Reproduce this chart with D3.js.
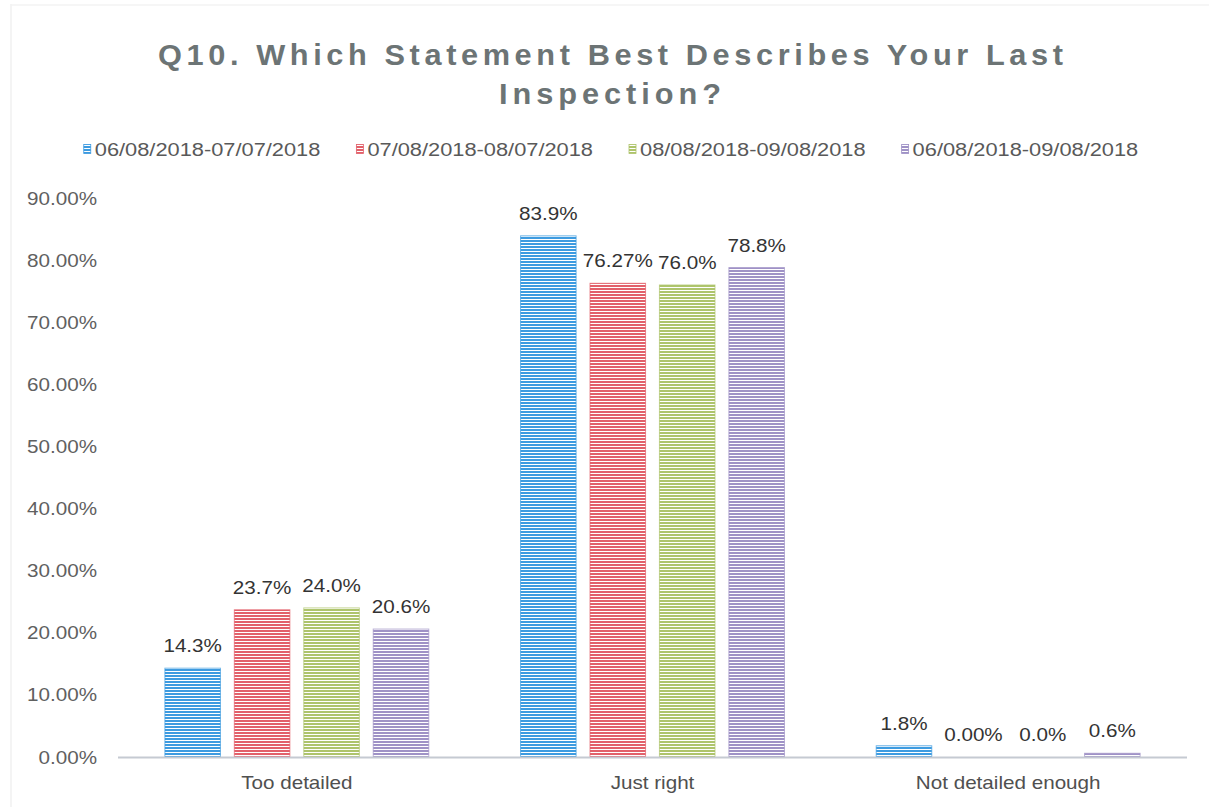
<!DOCTYPE html>
<html>
<head>
<meta charset="utf-8">
<script src="https://cdn.jsdelivr.net/npm/d3@7/dist/d3.min.js"></script>
<style>
  html, body { margin: 0; padding: 0; background: #fff; }
  svg { display: block; font-family: "Liberation Sans", Arial, sans-serif; }
</style>
</head>
<body>
<svg id="chart" width="1209" height="807"></svg>
<script>
// Survey results: Q10 by reporting period
const categories = ["Too detailed", "Just right", "Not detailed enough"];
const seriesNames = [
  "06/08/2018-07/07/2018",
  "07/08/2018-08/07/2018",
  "08/08/2018-09/08/2018",
  "06/08/2018-09/08/2018"
];
const seriesColors = ["#3d9be0", "#e2606a", "#aec46c", "#9f92c6"];

const period1Values = [14.3, 83.9, 1.8];
const period2Values = [23.7, 76.27, 0.00];
const period3Values = [24.0, 76.0, 0.0];
const overallValues = [20.6, 78.8, 0.6];

// decimals shown in each data label
const period1Decimals = [1, 1, 1];
const period2Decimals = [1, 2, 2];
const period3Decimals = [1, 1, 1];
const overallDecimals = [1, 1, 1];

const yTicks = [0, 10, 20, 30, 40, 50, 60, 70, 80, 90];

const seriesValues = [period1Values, period2Values, period3Values, overallValues];
const seriesDecimals = [period1Decimals, period2Decimals, period3Decimals, overallDecimals];

const svg = d3.select("#chart");
const SX = 1.18; // horizontal stretch of the text glyphs

// light frame
svg.append("line").attr("x1", 11).attr("x2", 11).attr("y1", 4).attr("y2", 807)
  .attr("stroke", "#f0f0f0").attr("stroke-width", 1.5);
svg.append("line").attr("x1", 11).attr("x2", 1209).attr("y1", 5).attr("y2", 5)
  .attr("stroke", "#f3f3f3").attr("stroke-width", 1.5);

// striped fills
const defs = svg.append("defs");
seriesColors.forEach((c, i) => {
  const p = defs.append("pattern")
    .attr("id", "stripe" + i)
    .attr("patternUnits", "userSpaceOnUse")
    .attr("width", 6).attr("height", 3);
  p.append("rect").attr("width", 6).attr("height", 3).attr("fill", "#ffffff");
  p.append("rect").attr("width", 6).attr("height", 2).attr("fill", c);
});

const x0 = d3.scaleBand()
  .domain(categories)
  .range([119, 1186])
  .paddingInner(0.258)
  .paddingOuter(0.129);

const x1 = d3.scaleBand()
  .domain(d3.range(seriesNames.length))
  .range([0, x0.bandwidth()])
  .paddingInner(0.2);

const y = d3.scaleLinear().domain([0, 90]).range([757, 198]);

function stretchedText(sel, x, y, anchor) {
  return sel.append("text")
    .attr("transform", `translate(${x},${y}) scale(${SX},1)`)
    .attr("text-anchor", anchor);
}

// title (two lines, spaced out)
const TSX = 1.06;
svg.append("text")
  .attr("transform", `translate(158,65) scale(${TSX},1)`)
  .attr("font-size", 29).attr("font-weight", "bold")
  .attr("fill", "#6c7475")
  .attr("textLength", 905 / TSX).attr("lengthAdjust", "spacing")
  .text("Q10. Which Statement Best Describes Your Last");
svg.append("text")
  .attr("transform", `translate(499,104) scale(${TSX},1)`)
  .attr("font-size", 29).attr("font-weight", "bold")
  .attr("fill", "#6c7475")
  .attr("textLength", 222 / TSX).attr("lengthAdjust", "spacing")
  .text("Inspection?");

// legend
const legend = svg.append("g");
let lx = 0;
seriesNames.forEach((name, i) => {
  const g = legend.append("g").attr("transform", `translate(${lx},0)`);
  g.append("rect").attr("x", 0).attr("y", -4.5).attr("width", 7).attr("height", 9)
    .attr("fill", `url(#stripe${i})`).attr("stroke", seriesColors[i]).attr("stroke-width", 0.8);
  const t = stretchedText(g, 11, 6.5, "start")
    .attr("font-size", 18.5).attr("fill", "#595959").text(name);
  lx += 11 + t.node().getComputedTextLength() * SX + 36;
});
const legendWidth = lx - 36;
legend.attr("transform", `translate(${611 - legendWidth / 2},149)`);

// y axis labels
yTicks.forEach(v => {
  stretchedText(svg, 97, y(v) + 6.5, "end")
    .attr("font-size", 17.5).attr("fill", "#606060")
    .text(v.toFixed(2) + "%");
});

// bars and labels
categories.forEach((cat, ci) => {
  seriesValues.forEach((vals, si) => {
    const v = vals[ci];
    const bx = x0(cat) + x1(si);
    const bw = x1.bandwidth();
    if (v > 0) {
      svg.append("rect")
        .attr("x", bx).attr("y", y(v))
        .attr("width", bw).attr("height", y(0) - y(v))
        .attr("fill", `url(#stripe${si})`)
        .attr("stroke", seriesColors[si]).attr("stroke-width", 1).attr("stroke-opacity", 0.7);
    }
    stretchedText(svg, bx + bw / 2, y(v) - 16, "middle")
      .attr("font-size", 17.5).attr("fill", "#333333")
      .text(v.toFixed(seriesDecimals[si][ci]) + "%");
  });
  stretchedText(svg, x0(cat) + x0.bandwidth() / 2, 789, "middle")
    .attr("font-size", 17.5).attr("fill", "#505050")
    .text(cat);
});

// category axis line
svg.append("line")
  .attr("x1", 118).attr("x2", 1187)
  .attr("y1", y(0) + 0.5).attr("y2", y(0) + 0.5)
  .attr("stroke", "#c5cad2").attr("stroke-width", 2);
</script>
</body>
</html>
